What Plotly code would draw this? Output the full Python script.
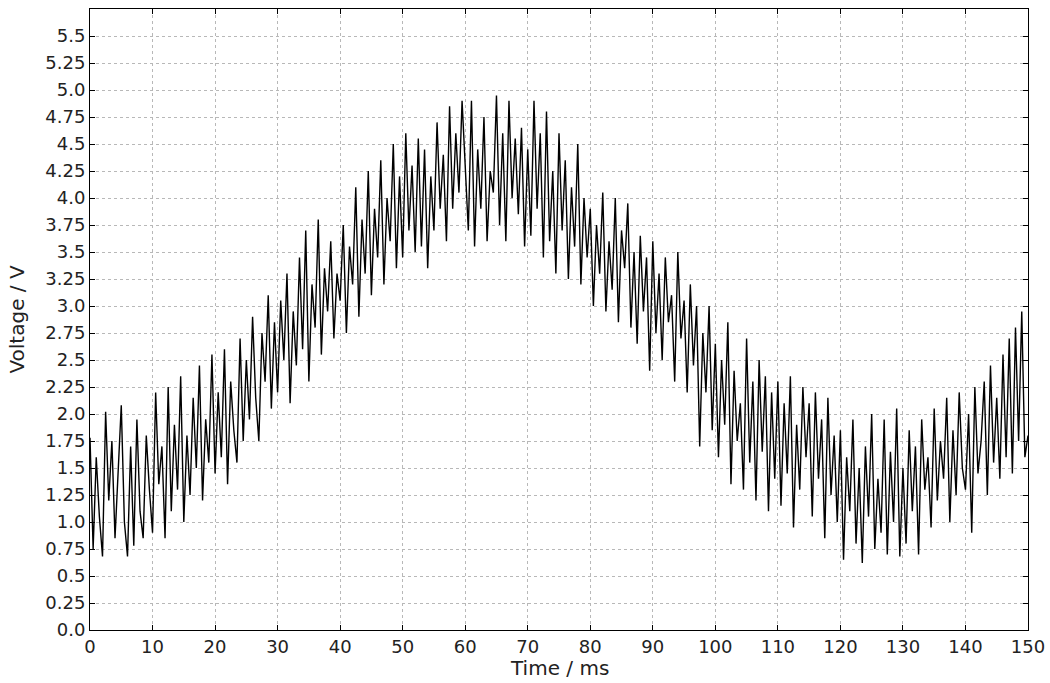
import numpy as np
import plotly.graph_objects as go

# sampled voltage trace, 0.5 ms spacing, one row per 10 ms
voltage = [
    1.78, 0.75, 1.6, 1.05, 0.68, 2.02, 1.2, 1.75, 0.85, 1.45, 2.08, 1.0, 0.68, 1.7, 0.78, 1.95, 1.1, 0.85, 1.8, 1.3,
    0.9, 2.2, 1.35, 1.7, 0.85, 2.25, 1.1, 1.9, 1.3, 2.35, 1.0, 1.8, 1.25, 2.15, 1.5, 2.45, 1.2, 1.95, 1.55, 2.55,
    1.45, 2.2, 1.6, 2.6, 1.35, 2.3, 1.85, 1.55, 2.7, 1.75, 2.5, 1.95, 2.9, 2.15, 1.75, 2.75, 2.3, 3.1, 2.05, 2.85,
    2.2, 3.05, 2.5, 3.3, 2.1, 2.95, 2.45, 3.45, 2.6, 3.7, 2.3, 3.2, 2.8, 3.8, 2.55, 3.35, 2.95, 3.6, 2.7, 3.3,
    3.05, 3.75, 2.75, 3.55, 3.2, 4.1, 2.9, 3.8, 3.3, 4.25, 3.1, 3.9, 3.45, 4.35, 3.2, 4.0, 3.6, 4.5, 3.35, 4.2,
    3.45, 4.6, 3.7, 4.3, 3.5, 4.55, 3.55, 4.45, 3.35, 4.2, 3.7, 4.7, 3.9, 4.4, 3.6, 4.85, 3.9, 4.6, 4.05, 4.9,
    4.3, 3.7, 4.9, 3.55, 4.45, 3.9, 4.75, 3.6, 4.25, 4.05, 4.95, 3.75, 4.6, 3.6, 4.9, 4.0, 4.55, 3.85, 4.65, 3.55,
    4.45, 3.65, 4.9, 3.9, 4.6, 3.45, 4.8, 3.6, 4.25, 3.3, 4.6, 3.7, 4.35, 3.25, 4.1, 3.55, 4.5, 3.2, 4.0, 3.45,
    3.9, 3.0, 3.75, 3.3, 4.05, 2.95, 3.6, 3.15, 4.0, 2.85, 3.7, 3.35, 3.95, 2.8, 3.5, 2.65, 3.65, 2.95, 3.45, 2.4,
    3.6, 2.75, 3.3, 2.5, 3.45, 2.85, 3.1, 2.3, 3.5, 2.7, 3.05, 2.2, 3.2, 2.45, 3.0, 1.7, 2.75, 2.2, 3.0, 1.85,
    2.65, 1.6, 2.5, 1.9, 2.85, 1.35, 2.4, 1.75, 2.1, 1.3, 2.7, 1.55, 2.3, 1.2, 2.5, 1.65, 2.35, 1.1, 2.2, 1.4,
    2.3, 1.15, 2.1, 1.45, 2.35, 0.95, 1.9, 1.3, 2.25, 1.6, 2.1, 1.05, 2.2, 1.4, 1.95, 0.85, 2.15, 1.25, 1.8, 1.0,
    1.85, 0.65, 1.6, 1.1, 1.95, 0.8, 1.5, 0.62, 1.7, 1.05, 2.0, 0.75, 1.4, 0.9, 1.95, 0.7, 1.65, 1.0, 2.05, 0.68,
    1.5, 0.8, 1.85, 1.1, 1.7, 0.7, 1.95, 1.3, 1.6, 0.95, 2.05, 1.2, 1.75, 1.4, 2.15, 1.0, 1.85, 1.25, 2.2, 1.5,
    1.3, 2.0, 0.9, 2.25, 1.45, 1.75, 2.3, 1.25, 2.45, 1.55, 2.15, 1.4, 2.55, 1.6, 2.7, 1.45, 2.8, 1.75, 2.95, 1.6,
    1.8,
]
time_ms = np.arange(len(voltage)) * 0.5

x_ticks = list(range(0, 151, 10))
y_ticks = [i * 0.25 for i in range(23)]
y_labels = ['0.0', '0.25', '0.5', '0.75', '1.0', '1.25', '1.5', '1.75', '2.0', '2.25', '2.5', '2.75',
            '3.0', '3.25', '3.5', '3.75', '4.0', '4.25', '4.5', '4.75', '5.0', '5.25', '5.5']

fig = go.Figure()
fig.add_trace(go.Scatter(x=time_ms, y=voltage, mode='lines',
                         line=dict(color='black', width=1.4)))

axis_style = dict(showline=True, linecolor='black', linewidth=1, mirror='ticks',
                  ticks='inside', ticklen=5, tickcolor='black',
                  tickfont=dict(size=18), ticklabeloverflow='allow',
                  showgrid=True, gridcolor='#b8b8b8', griddash='dot', gridwidth=1,
                  zeroline=False)

title_font = dict(family='DejaVu Sans', size=20, color='#222222')

fig.update_layout(
    width=1050, height=683,
    margin=dict(l=90, r=22, t=9, b=53),
    plot_bgcolor='white', paper_bgcolor='white',
    showlegend=False,
    font=dict(family='DejaVu Sans', size=17, color='#222222'),
    xaxis=dict(range=[0, 150], tickvals=x_ticks, automargin=False, **axis_style),
    yaxis=dict(range=[0, 5.75], tickvals=y_ticks, ticktext=y_labels,
               title=dict(text='Voltage / V', standoff=15, font=title_font), **axis_style),
)

# x title as an annotation so the plot box keeps its size
fig.add_annotation(text='Time / ms', xref='paper', yref='paper', x=0.5, y=0,
                   yanchor='middle', yshift=-38, showarrow=False, font=title_font)

# drop the default page margin so the 1050x683 figure fills the window exactly
fig.write_html("out.html", config={'displayModeBar': False},
               post_script="document.body.style.margin='0';")
